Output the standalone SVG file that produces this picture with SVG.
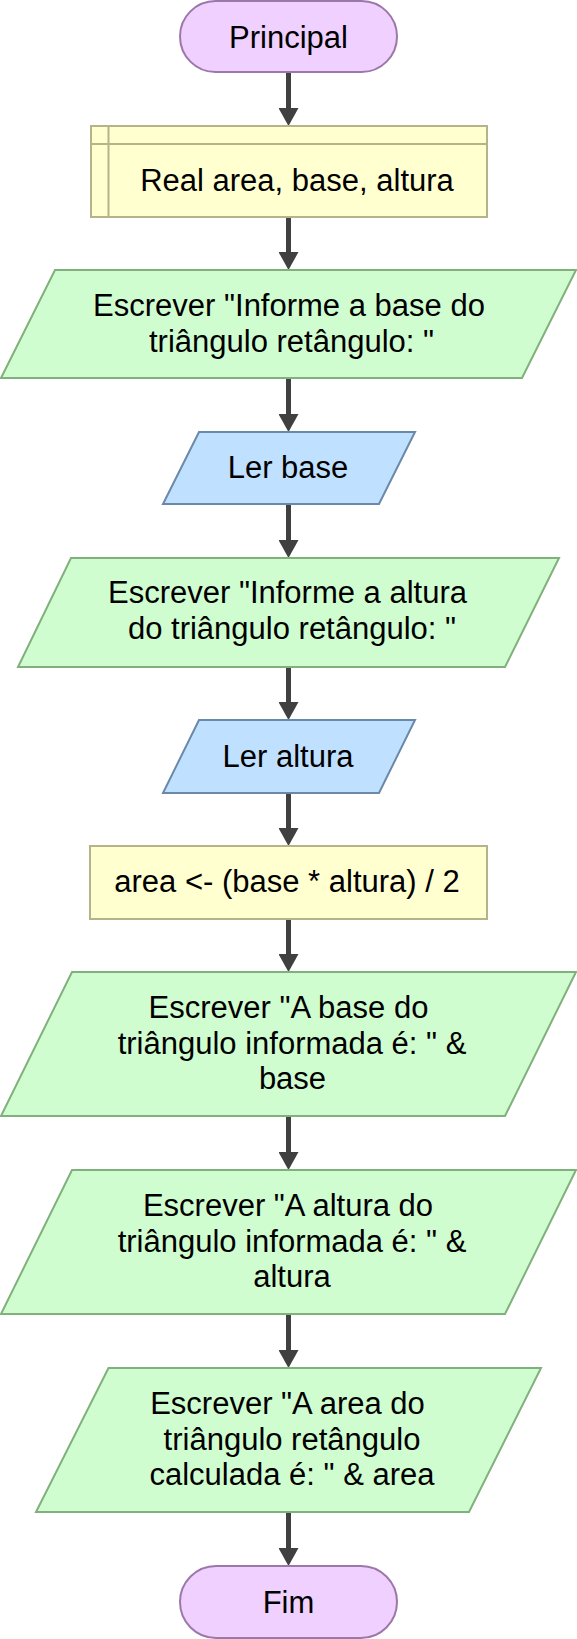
<svg xmlns="http://www.w3.org/2000/svg" width="577" height="1639" viewBox="0 0 577 1639">
<defs>
<style>
.term{fill:#efd0fe;stroke:#9c78aa;stroke-width:2}
.proc{fill:#ffffd0;stroke:#b4b38a;stroke-width:2}
.out{fill:#d0fdd0;stroke:#80b07c;stroke-width:2}
.inp{fill:#c0e0ff;stroke:#6a88a8;stroke-width:2}
.conn{stroke:#404040;stroke-width:5;fill:none;marker-end:url(#ah)}
text{font-family:"Liberation Sans",Arial,sans-serif;font-size:31px;fill:#000;text-anchor:middle}
</style>
<marker id="ah" markerUnits="userSpaceOnUse" markerWidth="18" markerHeight="20" viewBox="0 0 18 20" refX="2" refY="10" orient="auto">
<path d="M0,0 L18,10 L0,20 z" fill="#404040"/>
</marker>
</defs>
<g id="connectors">
<path class="conn" d="M288.5,72 V110"/>
<path class="conn" d="M288.5,217 V254"/>
<path class="conn" d="M288.5,378 V416"/>
<path class="conn" d="M288.5,504 V542"/>
<path class="conn" d="M288.5,667 V704"/>
<path class="conn" d="M288.5,793 V830"/>
<path class="conn" d="M288.5,919 V956"/>
<path class="conn" d="M288.5,1116 V1154"/>
<path class="conn" d="M288.5,1314 V1352"/>
<path class="conn" d="M288.5,1512 V1550"/>
</g>
<g id="n_principal">
<rect class="term" x="180" y="1" width="217" height="71" rx="35.5" ry="35.5"/>
<text x="288.5" y="47.5">Principal</text>
</g>
<g id="n_decl">
<rect class="proc" x="91" y="126" width="396" height="91"/>
<line x1="108.5" y1="126" x2="108.5" y2="217" stroke="#b4b38a" stroke-width="2"/>
<line x1="91" y1="144" x2="487" y2="144" stroke="#b4b38a" stroke-width="2"/>
<text x="297" y="191">Real area, base, altura</text>
</g>
<g id="n_out1">
<polygon class="out" points="55,270 576,270 522,378 1,378"/>
<text x="289" y="316">Escrever "Informe a base do</text>
<text x="291.5" y="352">triângulo retângulo: "</text>
</g>
<g id="n_in1">
<polygon class="inp" points="199,432 415,432 379,504 163,504"/>
<text x="288" y="478">Ler base</text>
</g>
<g id="n_out2">
<polygon class="out" points="71,558 559,558 505,667 18,667"/>
<text x="287.5" y="603">Escrever "Informe a altura</text>
<text x="292" y="639">do triângulo retângulo: "</text>
</g>
<g id="n_in2">
<polygon class="inp" points="199,720 415,720 379,793 163,793"/>
<text x="288" y="767">Ler altura</text>
</g>
<g id="n_calc">
<rect class="proc" x="90" y="846" width="397" height="73"/>
<text x="287" y="892">area &lt;- (base * altura) / 2</text>
</g>
<g id="n_out3">
<polygon class="out" points="72,972 576,972 505,1116 1,1116"/>
<text x="288.5" y="1018">Escrever "A base do</text>
<text x="292" y="1054">triângulo informada é: " &amp;</text>
<text x="292.5" y="1089">base</text>
</g>
<g id="n_out4">
<polygon class="out" points="72,1170 576,1170 505,1314 1,1314"/>
<text x="288" y="1216">Escrever "A altura do</text>
<text x="292" y="1252">triângulo informada é: " &amp;</text>
<text x="292" y="1287">altura</text>
</g>
<g id="n_out5">
<polygon class="out" points="108.5,1368 541,1368 469,1512 36,1512"/>
<text x="287.5" y="1414">Escrever "A area do</text>
<text x="292" y="1450">triângulo retângulo</text>
<text x="292" y="1485">calculada é: " &amp; area</text>
</g>
<g id="n_fim">
<rect class="term" x="180" y="1566" width="217" height="72" rx="36" ry="36"/>
<text x="288.5" y="1613">Fim</text>
</g>
</svg>
